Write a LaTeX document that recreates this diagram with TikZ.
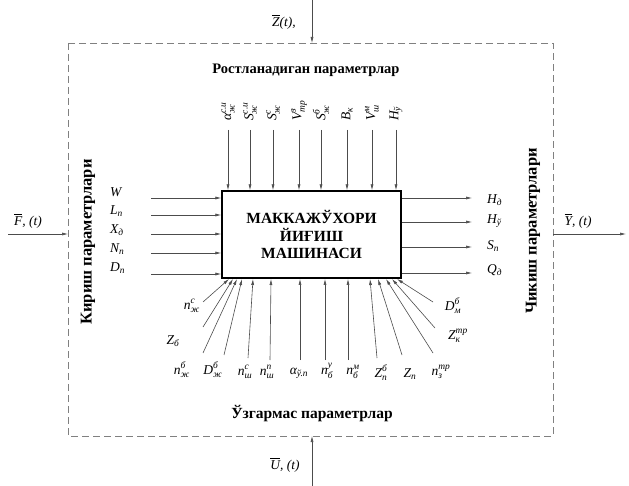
\documentclass[tikz,border=0pt]{standalone}
\usepackage{amsmath}
\usepackage{fontspec}
\setmainfont{Liberation Serif}
\usetikzlibrary{arrows.meta}

% parameter with subscript and superscript / with subscript only
\newcommand{\pv}[3]{$\textit{#1}_{\textit{#2}}^{\textit{#3}}$}
\newcommand{\ps}[2]{$\textit{#1}_{\textit{#2}}$}

\begin{document}
\begin{tikzpicture}[x=1pt,y=-1pt,
	arr/.style={-{Latex[length=6pt,width=3pt]}, draw=gray!60!black, line width=0.6pt},
	lbl/.style={inner sep=0pt, font=\fontsize{13.5}{13.5}\selectfont},
	ttl/.style={font=\fontsize{14.5}{14.5}\selectfont\bfseries},
	frame/.style={draw=gray, dash pattern=on 7pt off 4pt, line width=0.7pt}]
				\useasboundingbox (0,0) rectangle (629,486);
				\draw[frame] (68,43) rectangle (553,436);
				\node[draw, line width=1.4pt, minimum width=179pt, minimum height=87pt, align=center,
					font=\fontsize{15.5}{17.5}\selectfont\bfseries] (box) at (311.5,234.5) {МАККАЖЎХОРИ\\ЙИҒИШ\\МАШИНАСИ};
				% titles
				\node[ttl] (top) at (306,70) {Ростланадиган параметрлар};
				\node[ttl, font=\fontsize{15.5}{15.5}\selectfont\bfseries] (bot) at (312,414) {Ўзгармас параметрлар};
				\node[ttl, rotate=90, font=\fontsize{16.5}{16.5}\selectfont\bfseries] (kir) at (88,242) {Кириш параметрлари};
				\node[ttl, rotate=90, font=\fontsize{16.5}{16.5}\selectfont\bfseries] (chi) at (533,231) {Чикиш параметрлари};
				% outer arrows
				\coordinate (fin) at (8,234);   \coordinate (fl) at (68,234);
				\coordinate (yr) at (553,234);  \coordinate (yout) at (626,234);
				\coordinate (zin) at (312,0);   \coordinate (zt) at (312,43);
				\coordinate (uin) at (312,486); \coordinate (ub) at (312,436);
				\draw[arr] (fin)--(fl);
				\draw[arr] (yr)--(yout);
				\draw[arr] (zin)--(zt);
				\draw[arr] (uin)--(ub);
				\node[lbl] (F) at (28,221) {$\overline{\textit{F}}$\textit{, (t)}};
				\node[lbl] (Y) at (578,221) {$\overline{\textit{Y}}$\textit{, (t)}};
				\node[lbl] (Z) at (284,22) {$\overline{\textit{Z}}$\textit{(t),}};
				\node[lbl] (U) at (285,465) {$\overline{\textit{U}}$\textit{, (t)}};
				% inputs
				\coordinate (i1) at (151,198); \coordinate (i2) at (151,215);
				\coordinate (i3) at (151,234); \coordinate (i4) at (151,253);
				\coordinate (i5) at (151,274);
				\draw[arr] (i1)--(i1-|box.west);
				\draw[arr] (i2)--(i2-|box.west);
				\draw[arr] (i3)--(i3-|box.west);
				\draw[arr] (i4)--(i4-|box.west);
				\draw[arr] (i5)--(i5-|box.west);
				\node[lbl,anchor=west] (W) at (110,192) {\textit{W}};
				\node[lbl,anchor=west] (Ln) at (110,211) {\ps{L}{п}};
				\node[lbl,anchor=west] (Xd) at (110,230) {\ps{X}{д}};
				\node[lbl,anchor=west] (Nn) at (110,249) {\ps{N}{п}};
				\node[lbl,anchor=west] (Dn) at (110,268) {\ps{D}{п}};
				% outputs
				\coordinate (o1) at (472,198); \coordinate (o2) at (472,222);
				\coordinate (o3) at (472,247); \coordinate (o4) at (472,273);
				\draw[arr] (o1-|box.east)--(o1);
				\draw[arr] (o2-|box.east)--(o2);
				\draw[arr] (o3-|box.east)--(o3);
				\draw[arr] (o4-|box.east)--(o4);
				\node[lbl,anchor=west] (Hd) at (487,200) {\ps{H}{д}};
				\node[lbl,anchor=west] (Hu) at (487,221) {\ps{H}{ў}};
				\node[lbl,anchor=west] (Sn) at (487,246) {\ps{S}{п}};
				\node[lbl,anchor=west] (Qd) at (487,270) {\ps{Q}{д}};
				% adjustable parameters
				\coordinate (a1) at (228,130); \coordinate (a2) at (250,130);
				\coordinate (a3) at (273,130); \coordinate (a4) at (299,130);
				\coordinate (a5) at (321,130); \coordinate (a6) at (347,130);
				\coordinate (a7) at (372,130); \coordinate (a8) at (396,130);
				\draw[arr] (a1)--(a1|-box.north);
				\draw[arr] (a2)--(a2|-box.north);
				\draw[arr] (a3)--(a3|-box.north);
				\draw[arr] (a4)--(a4|-box.north);
				\draw[arr] (a5)--(a5|-box.north);
				\draw[arr] (a6)--(a6|-box.north);
				\draw[arr] (a7)--(a7|-box.north);
				\draw[arr] (a8)--(a8|-box.north);
				\node[lbl,rotate=90,anchor=west] (aj) at (228,121) {\pv{α}{ж}{с.и}};
				\node[lbl,rotate=90,anchor=west] (Sj) at (250,121) {\pv{S}{ж}{с.и}};
				\node[lbl,rotate=90,anchor=west] (Sc) at (273,121) {\pv{S}{ж}{с}};
				\node[lbl,rotate=90,anchor=west] (Vt) at (299,121) {\pv{V}{тр}{з}};
				\node[lbl,rotate=90,anchor=west] (Sb) at (321,121) {\pv{S}{ж}{б}};
				\node[lbl,rotate=90,anchor=west] (Bk) at (347,121) {\ps{B}{к}};
				\node[lbl,rotate=90,anchor=west] (Vm) at (372,121) {\pv{V}{ш}{м}};
				\node[lbl,rotate=90,anchor=west] (Hy) at (396,121) {\ps{H}{ў}};
				% constant parameters
				\coordinate (s1) at (203,302);  \coordinate (e1) at (229,279);
				\coordinate (s2) at (203,327);  \coordinate (e2) at (233,279);
				\coordinate (s3) at (203,353);  \coordinate (e3) at (237,279);
				\coordinate (s4) at (224,355);  \coordinate (e4) at (242,279);
				\coordinate (s5) at (248,358);  \coordinate (e5) at (253,279);
				\coordinate (s6) at (270,360);  \coordinate (e6) at (271,279);
				\coordinate (s7) at (300,360);  \coordinate (e7) at (300,279);
				\coordinate (s8) at (325,360);  \coordinate (e8) at (325,279);
				\coordinate (s9) at (348,360);  \coordinate (e9) at (348,279);
				\coordinate (s10) at (377,358); \coordinate (e10) at (370,279);
				\coordinate (s11) at (402,355); \coordinate (e11) at (378,279);
				\coordinate (s12) at (433,353); \coordinate (e12) at (386,279);
				\coordinate (s13) at (435,328); \coordinate (e13) at (392,279);
				\coordinate (s14) at (433,302); \coordinate (e14) at (397,279);
				\draw[arr] (s1)--(e1);
				\draw[arr] (s2)--(e2);
				\draw[arr] (s3)--(e3);
				\draw[arr] (s4)--(e4);
				\draw[arr] (s5)--(e5);
				\draw[arr] (s6)--(e6);
				\draw[arr] (s7)--(e7);
				\draw[arr] (s8)--(e8);
				\draw[arr] (s9)--(e9);
				\draw[arr] (s10)--(e10);
				\draw[arr] (s11)--(e11);
				\draw[arr] (s12)--(e12);
				\draw[arr] (s13)--(e13);
				\draw[arr] (s14)--(e14);
				\node[lbl] (njc) at (192,306) {\pv{n}{ж}{с}};
				\node[lbl] (Zb)  at (173,341) {\ps{Z}{б}};
				\node[lbl] (njb) at (182,370) {\pv{n}{ж}{б}};
				\node[lbl] (Djb) at (213,370) {\pv{D}{ж}{б}};
				\node[lbl] (nwc) at (245,372) {\pv{n}{ш}{с}};
				\node[lbl] (nwn) at (267,372) {\pv{n}{ш}{п}};
				\node[lbl] (au)  at (299,373) {\ps{α}{ў.п}};
				\node[lbl] (nby) at (327,371) {\pv{n}{б}{у}};
				\node[lbl] (nbm) at (353,372) {\pv{n}{б}{м}};
				\node[lbl] (Znb) at (381,373) {\pv{Z}{п}{б}};
				\node[lbl] (Zn)  at (410,374) {\ps{Z}{п}};
				\node[lbl] (nzt) at (441,372) {\pv{n}{з}{тр}};
				\node[lbl] (Zkt) at (458,336) {\pv{Z}{к}{тр}};
				\node[lbl] (Dmb) at (453,306) {\pv{D}{м}{б}};
			\end{tikzpicture}
\end{document}
